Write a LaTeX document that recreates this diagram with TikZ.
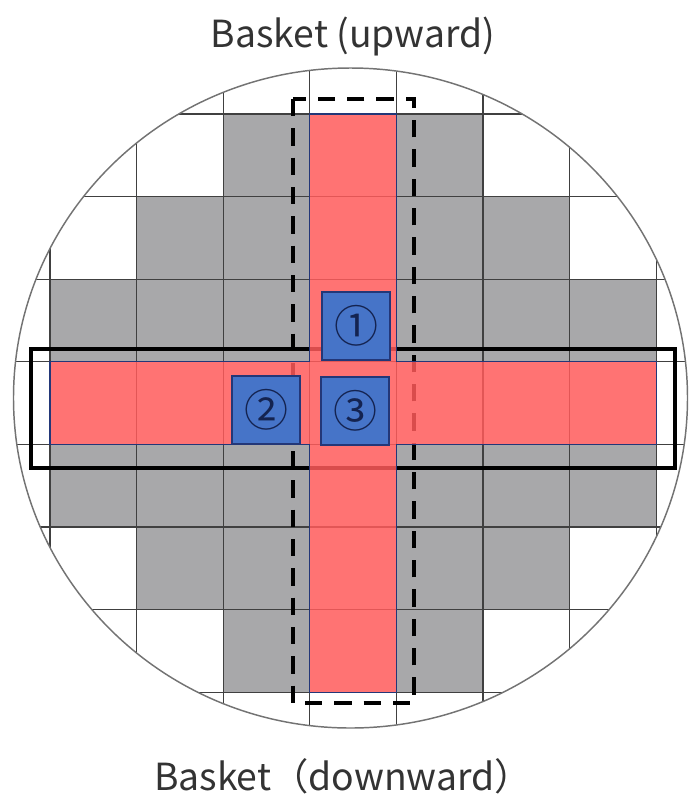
\documentclass[tikz,border=0pt]{standalone}
\usepackage{fontspec}
\newfontfamily\cjk{Noto Sans CJK JP}
\definecolor{cellgray}{RGB}{168,168,170}
\definecolor{crossred}{RGB}{255,90,90}
\definecolor{boxblue}{RGB}{70,116,200}
\definecolor{boxline}{RGB}{35,55,120}
\definecolor{numnavy}{RGB}{20,35,80}

\begin{document}
\begin{tikzpicture}[x=0.75pt,y=-0.75pt,
  gridline/.style={draw=black!75,line width=0.9pt},
  graycell/.style={fill=cellgray},
  bluebox/.style={draw=boxline,line width=0.8pt,fill=boxblue,minimum width=51pt,minimum height=51pt,inner sep=0pt,text=numnavy,font=\cjk\fontsize{33}{33}\selectfont},
  basketlbl/.style={anchor=base,text=black!80,font=\cjk\fontsize{28}{32}\selectfont}]
  \useasboundingbox (0,0) rectangle (689,794);
  % grid corners
  \foreach \i in {0,...,7}
    \foreach \j in {0,...,7}
      \coordinate (g-\i-\j) at ({50+86.6*\i},{114+82.6*\j});
  % gray cells
  \foreach \c/\r [evaluate=\c as \cn using int(\c+1),evaluate=\r as \rn using int(\r+1)] in
    {2/0,4/0, 1/1,2/1,4/1,5/1, 0/2,1/2,2/2,4/2,5/2,6/2,
     0/4,1/4,2/4,4/4,5/4,6/4, 1/5,2/5,4/5,5/5, 2/6,4/6}
    \fill[graycell] (g-\c-\r) rectangle (g-\cn-\rn);
  % grid, cut to the wafer
  \begin{scope}
    \clip (350.5,398) ellipse [x radius=252.75pt,y radius=247.5pt];
    \foreach \i in {0,...,7} {
      \draw[gridline] ({50+86.6*\i},0) -- ({50+86.6*\i},794);
      \draw[gridline] (0,{114+82.6*\i}) -- (689,{114+82.6*\i});
    }
  \end{scope}
  \draw[black!55,line width=1.1pt] (350.5,398) ellipse [x radius=252.75pt,y radius=247.5pt];
  % baskets
  \draw[line width=2.6pt,dash pattern=on 13pt off 9pt] (293,99) rectangle (414,703);
  \draw[line width=3pt] (31,349) rectangle (675,468);
  % cross
  \path[fill=crossred,fill opacity=.85,draw=boxline,line width=.8pt]
    (g-3-0) -- (g-4-0) -- (g-4-3) -- (g-7-3) -- (g-7-4) -- (g-4-4) -- (g-4-7)
    -- (g-3-7) -- (g-3-4) -- (g-0-4) -- (g-0-3) -- (g-3-3) -- cycle;
  \node[bluebox] (b1) at (356,326) {①};
  \node[bluebox] (b2) at (266,410) {②};
  \node[bluebox] (b3) at (355,411) {③};
  \node[basketlbl] (up) at (353,47) {Basket (upward)};
  \node[basketlbl] (down) at (343,790) {Basket（downward）};
\end{tikzpicture}
\end{document}
